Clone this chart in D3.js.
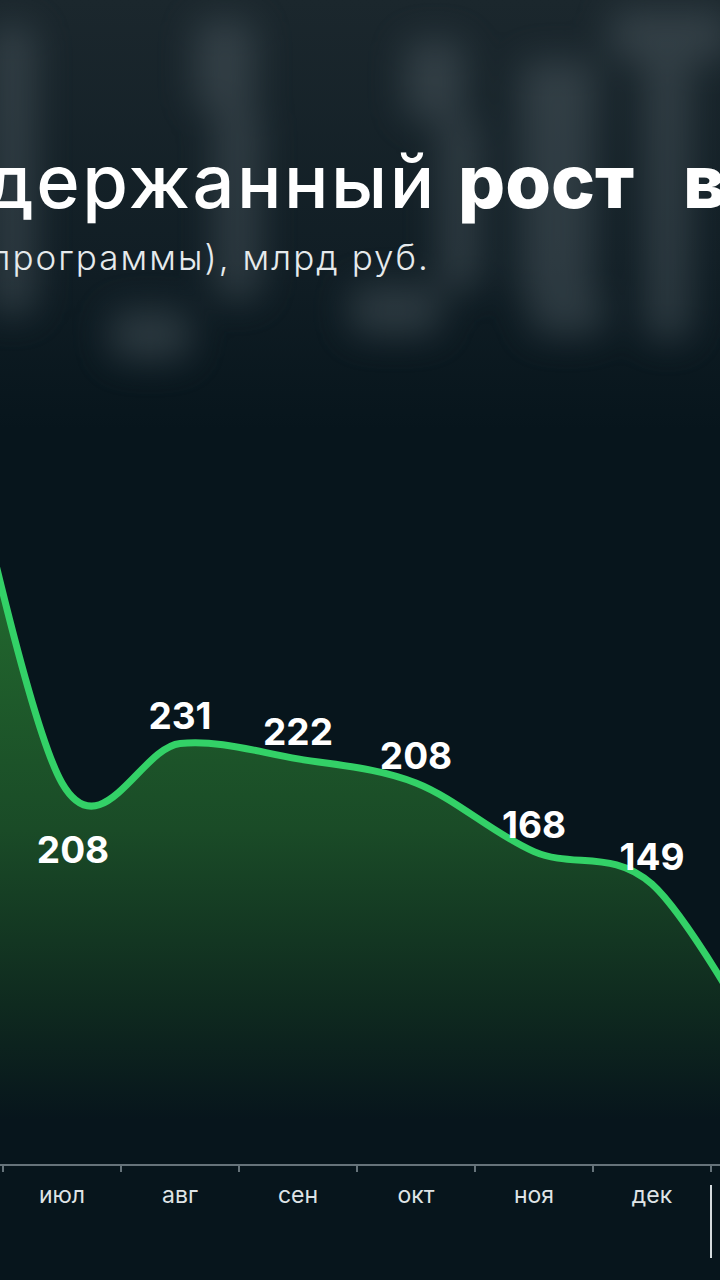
<!DOCTYPE html>
<html><head><meta charset="utf-8">
<script src="https://cdn.jsdelivr.net/npm/d3@7"></script>
<style>
html,body{margin:0;padding:0;background:#07151c;}
svg{display:block;}
</style></head>
<body>
<svg id="c" width="720" height="1280"></svg>
<script>
// ---- data ----
const months = ["июн","июл","авг","сен","окт","ноя","дек","янв"];
const values = [470, 208, 231, 222, 208, 168, 149, 45]; // июн / янв estimated from the cropped curve
const labelMonths = ["июл","авг","сен","окт","ноя","дек"];
const labelValues = [208, 231, 222, 208, 168, 149];
const titleRegular = "Сдержанный";
const titleBold = ["рост", "в"];
const subtitle = "программы), млрд руб.";

const W = 720, H = 1280;
const FONT = "Inter, 'Open Sans', sans-serif";
const svg = d3.select("#c");
const defs = svg.append("defs");

// background
svg.append("rect").attr("width", W).attr("height", H).attr("fill", "#07151c");
const topGrad = defs.append("linearGradient").attr("id", "topGrad")
  .attr("x1", 0).attr("x2", 0).attr("y1", 0).attr("y2", 1);
topGrad.append("stop").attr("offset", 0).attr("stop-color", "#1b272d");
topGrad.append("stop").attr("offset", 0.6).attr("stop-color", "#111e25");
topGrad.append("stop").attr("offset", 1).attr("stop-color", "#07151c");
svg.append("rect").attr("width", W).attr("height", 430).attr("fill", "url(#topGrad)");

// blurred decorative letters
const blur = defs.append("filter").attr("id", "blur").attr("x", "-50%").attr("y", "-50%").attr("width", "200%").attr("height", "200%");
blur.append("feGaussianBlur").attr("stdDeviation", 18);
const deco = svg.append("g").attr("filter", "url(#blur)").attr("fill", "#56636a").attr("opacity", 0.42);
[[-10, 25, 45, 290], [195, 20, 60, 90], [215, 110, 45, 190], [405, 40, 60, 80], [440, 120, 40, 170],
 [520, 60, 75, 240], [610, 10, 120, 50], [645, 40, 45, 300], [110, 310, 80, 50], [350, 285, 90, 50], [530, 295, 75, 40]]
  .forEach(r => deco.append("rect").attr("x", r[0]).attr("y", r[1]).attr("width", r[2]).attr("height", r[3]).attr("rx", 12));

// title
const titleG = svg.append("g").attr("fill", "#ffffff").attr("font-family", FONT);
const t1 = titleG.append("text").attr("y", 208).attr("font-size", 74).attr("font-weight", 500).text(titleRegular);
// widen to match the reference's wide typeface: "держанный" spans ≈ -14..432
const fullW = t1.node().getComputedTextLength();
const firstW = t1.node().getSubStringLength(0, 1);
const restW = fullW - firstW;
const extra = (446 - restW) / 8;
const tl = fullW + extra * 10;
t1.attr("textLength", tl).attr("lengthAdjust", "spacing").attr("x", 432 - tl + extra);

const tb = titleG.append("text").attr("y", 208).attr("font-size", 74).attr("font-weight", 800);
tb.append("tspan").attr("x", 458).text(titleBold[0]);
tb.append("tspan").attr("x", 683).text(titleBold[1]);

svg.append("text").attr("x", -10).attr("y", 270)
  .attr("font-family", FONT).attr("font-size", 35).attr("font-weight", 300)
  .attr("fill", "#e6eaec").attr("textLength", 438).attr("lengthAdjust", "spacing").text(subtitle);

// scales
const x = d3.scaleBand().domain(months).range([-115, 829]);
const cx = m => x(m) + x.bandwidth() / 2;
const y = d3.scaleLinear().domain([0, 300]).range([1140, 625]);
const axisY = 1165;

const data = months.map((m, i) => ({ m, v: values[i] }));

// area
const ag = defs.append("linearGradient").attr("id", "areaGrad").attr("gradientUnits", "userSpaceOnUse")
  .attr("x1", 0).attr("x2", 0).attr("y1", 540).attr("y2", 1120);
[[0, "#236d2f"], [0.5, "#1a4b27"], [0.8, "#0f2a1f"], [1, "#07151c"]]
  .forEach(s => ag.append("stop").attr("offset", s[0]).attr("stop-color", s[1]));

const curve = d3.curveCardinal.tension(0);
svg.append("path").datum(data)
  .attr("d", d3.area().x(d => cx(d.m)).y0(axisY).y1(d => y(d.v)).curve(curve))
  .attr("fill", "url(#areaGrad)");
svg.append("path").datum(data)
  .attr("d", d3.line().x(d => cx(d.m)).y(d => y(d.v)).curve(curve))
  .attr("fill", "none").attr("stroke", "#33d167").attr("stroke-width", 7).attr("stroke-linecap", "round");

// value labels
const lbl = labelMonths.map((m, i) => ({ m, v: labelValues[i] }));
const isMin = m => { const i = months.indexOf(m); return values[i] < values[i - 1] && values[i] < values[i + 1]; };
svg.append("g").selectAll("text").data(lbl).join("text")
  .attr("x", d => cx(d.m) + (isMin(d.m) ? 11 : 0))
  .attr("y", d => isMin(d.m) ? y(d.v) + 80 : y(d.v) - 14)
  .attr("text-anchor", "middle").attr("fill", "#ffffff")
  .attr("font-family", FONT).attr("font-size", 37).attr("font-weight", 700)
  .text(d => d.v);

// axis
const axis = d3.axisBottom(x).tickValues(labelMonths).tickSizeInner(0).tickSizeOuter(0).tickPadding(22);
const ax = svg.append("g").attr("transform", `translate(0,${axisY})`).call(axis);
ax.select(".domain").remove();
ax.selectAll("text").attr("font-family", FONT).attr("font-size", 23)
  .attr("fill", "#dfe4e6").attr("font-weight", 400);
svg.append("line").attr("x1", 0).attr("x2", W).attr("y1", axisY).attr("y2", axisY)
  .attr("stroke", "#66737a").attr("stroke-width", 2);
const bounds = months.map(m => x(m)).concat([x(months[months.length - 1]) + x.bandwidth()]);
svg.append("g").selectAll("line").data(bounds).join("line")
  .attr("x1", d => d).attr("x2", d => d).attr("y1", axisY).attr("y2", axisY + 7)
  .attr("stroke", "#66737a").attr("stroke-width", 2);
// year separator
svg.append("line").attr("x1", x("янв")).attr("x2", x("янв")).attr("y1", 1185).attr("y2", 1258)
  .attr("stroke", "#d5dbde").attr("stroke-width", 2);
</script>
</body></html>
